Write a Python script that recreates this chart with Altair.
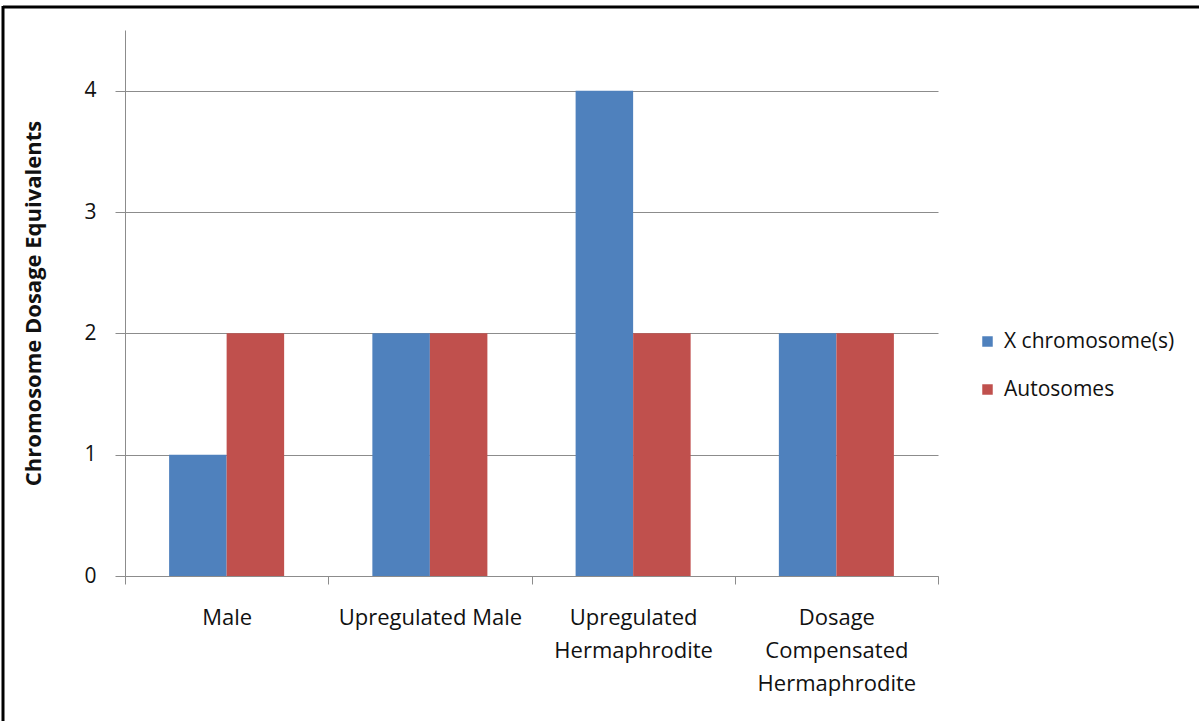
import altair as alt
import pandas as pd

# Chromosome dosage by karyotype group
groups = ["Male", "Upregulated Male", "Upregulated Hermaphrodite",
          "Dosage Compensated Hermaphrodite"]
series = ["X chromosome(s)", "Autosomes"]
x_dosage = [1, 2, 4, 2]
autosome_dosage = [2, 2, 2, 2]
colors = ["#4F81BD", "#C0504D"]

rows = []
for g, xv, av in zip(groups, x_dosage, autosome_dosage):
    rows.append({"group": g, "series": series[0], "value": xv})
    rows.append({"group": g, "series": series[1], "value": av})
df = pd.DataFrame(rows)

FONT = "Open Sans"
TEXT = "#111111"
GRID = "#8c8c8c"

bars = alt.Chart(df).mark_bar(stroke=None).encode(
    x=alt.X(
        "group:N",
        sort=groups,
        scale=alt.Scale(paddingInner=0, paddingOuter=0),
        axis=alt.Axis(
            title=None,
            labelAngle=0,
            labelFont=FONT,
            labelFontSize=22,
            labelColor=TEXT,
            labelLineHeight=33,
            labelBaseline="top",
            labelPadding=23,
            labelLimit=0,
            labelExpr="datum.label == 'Upregulated Male' ? datum.label : split(datum.label, ' ')",
            tickBand="extent",
            tickSize=8,
            tickColor=GRID,
            domainColor=GRID,
            grid=False,
        ),
    ),
    xOffset=alt.XOffset(
        "series:N",
        sort=series,
        scale=alt.Scale(paddingInner=0, paddingOuter=0.767),
    ),
    y=alt.Y(
        "value:Q",
        scale=alt.Scale(domain=[0, 4.5], nice=False),
        axis=alt.Axis(
            title="Chromosome Dosage  Equivalents",
            titleFont=FONT,
            titleFontSize=22,
            titleFontWeight="bold",
            titleColor=TEXT,
            titleX=-92,
            titleY=273,
            titleAlign="center",
            titleBaseline="middle",
            titleAngle=270,
            titleLimit=0,
            values=[0, 1, 2, 3, 4],
            format="d",
            labelFont=FONT,
            labelFontSize=21,
            labelColor=TEXT,
            labelPadding=19,
            tickSize=10,
            tickColor=GRID,
            domainColor=GRID,
            grid=True,
            gridColor=GRID,
        ),
    ),
    color=alt.Color(
        "series:N",
        sort=series,
        scale=alt.Scale(domain=series, range=colors),
        legend=alt.Legend(
            title=None,
            orient="none",
            legendX=852,
            legendY=301,
            symbolType="square",
            symbolSize=110,
            symbolStrokeWidth=0,
            labelFont=FONT,
            labelFontSize=21,
            labelColor=TEXT,
            labelOffset=6,
            labelLimit=0,
            rowPadding=26,
        ),
    ),
)

# Frame lines along the left and top edges of the figure
edge = pd.DataFrame({"k": [0]})
left_edge = alt.Chart(edge).mark_rule(color="#000000", strokeWidth=3).encode(
    x=alt.value(-122), y=alt.value(-24), y2=alt.value(691)
)
top_edge = alt.Chart(edge).mark_rule(color="#000000", strokeWidth=3).encode(
    x=alt.value(-122), x2=alt.value(1074), y=alt.value(-23)
)

chart = alt.layer(bars, left_edge, top_edge).properties(
    width=813,
    height=546,
    padding={"left": 125, "top": 30, "right": 261, "bottom": 145},
    autosize=alt.AutoSizeParams(type="none"),
    background="#ffffff",
).configure_view(stroke=None)

chart.save("out.html", embed_options={"renderer": "svg", "actions": False})
